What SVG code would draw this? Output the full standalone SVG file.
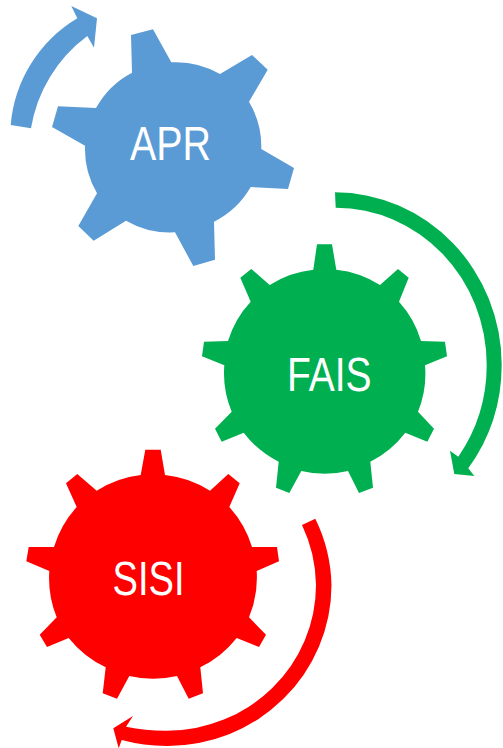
<svg xmlns="http://www.w3.org/2000/svg" width="503" height="748" viewBox="0 0 503 748">
<style>
.blue{fill:#5B9BD5}.green{fill:#00B050}.red{fill:#FF0000}
text{font-family:"Liberation Sans",Arial,sans-serif;font-size:48px;fill:#fff;text-rendering:geometricPrecision}
</style>
<rect width="503" height="748" fill="#fff"/>
<g id="connectors">
<path class="blue" d="M10.7 125A138 138 0 0 1 77.3 18.3L71.3 6L97 18.3L94 47.7L87.3 36A144 144 0 0 0 31 128.3Z"/>
<path class="green" d="M335 192.3A167 173 0 0 1 501.7 365A167 173 0 0 1 468.3 468.3L474.3 476L454.3 474L450 450.7L458.3 456.7A151 157.3 0 0 0 486.7 365A151 157.3 0 0 0 335.7 207.7Z"/>
<path class="red" d="M315.3 518.7A164 161 0 0 1 331.5 585A164 161 0 0 1 166.7 746A170 161 0 0 1 121.7 740L118.7 748.3L113.3 728.3L133 716L126 726.7A170 146 0 0 0 166.7 730.7A149.3 145.7 0 0 0 316 585A149.3 145.7 0 0 0 302 525Z"/>
</g>
<g id="node-apr">
<path class="blue" d="M131 35L153 29.3L171.3 62.3A88 88 0 0 1 220 74L252 55L267.7 69.7L249 101.7A88 88 0 0 1 261.3 149L294 168L288 189L250.7 187A88 88 0 0 1 214 221.7L215 259.7L193.3 266L175 232.3A88 88 0 0 1 126 220.7L93.7 240.7L78.3 226L97 193.3A88 88 0 0 1 85 145.7L52 127L58 106.3L96 108A88 88 0 0 1 132 72.7Z"/>
<text x="130" y="159.5" textLength="81" lengthAdjust="spacingAndGlyphs">APR</text>
</g>
<g id="node-fais">
<path class="green" d="M317 244.3L332 244.3L336.3 269.7A100 100 0 0 1 380 285L398 269L408.7 277.7L399 301.7A100 100 0 0 1 421 341L445 341.7L447 356.3L425 365.3A100 100 0 0 1 418 411.7L434 428.7L427.3 441.7L405.3 432.7A100 100 0 0 1 370.3 461.7L373 487.7L359 493L348 471A100 100 0 0 1 301.3 471L289.3 493L276 487.7L278.7 461.7A100 100 0 0 1 243.7 432.7L221.7 441.7L215 428.7L231.7 411.7A100 100 0 0 1 224.3 365.3L202 356.3L204 341.7L228 341A100 100 0 0 1 250.7 301.7L240.3 277.7L251.3 269L269.7 285A100 100 0 0 1 313.3 269.7Z"/>
<text x="287" y="391" textLength="84.5" lengthAdjust="spacingAndGlyphs">FAIS</text>
</g>
<g id="node-sisi">
<path class="red" d="M145.3 449.7L160.7 449.7L165 475A104 104 0 0 1 210 490.7L228.3 474L239.7 483.3L229.3 507A104 104 0 0 1 252 547L277 547L279 561.3L256.7 571A104 104 0 0 1 249 617.3L266 634.7L259 647L236.7 638A104 104 0 0 1 200.3 667.3L203 693.3L188.7 698.7L177 676A104 104 0 0 1 129.3 676L117 698.7L102.7 693.3L105.7 667.3A104 104 0 0 1 68.7 638L47 647L39.7 634.7L56.7 617.3A104 104 0 0 1 49.3 571L26.3 561.3L28.7 547L54 547A104 104 0 0 1 76.7 507L66 483.3L77.3 474L96.7 490.7A104 104 0 0 1 140.7 475Z"/>
<text x="112.5" y="595" textLength="72" lengthAdjust="spacingAndGlyphs">SISI</text>
</g>
</svg>
